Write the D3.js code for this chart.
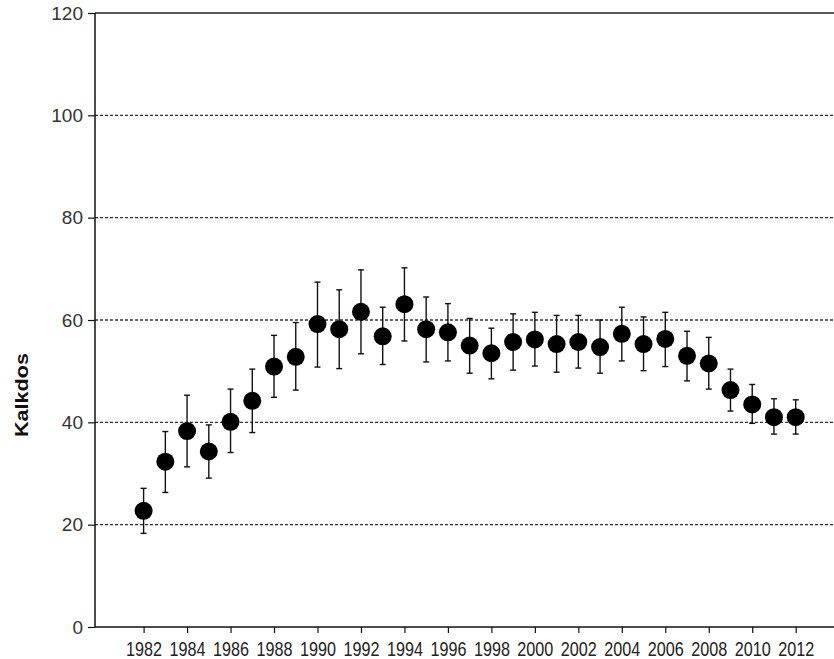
<!DOCTYPE html>
<html>
<head>
<meta charset="utf-8">
<script src="https://cdn.jsdelivr.net/npm/d3@7"></script>
<style>
  html, body { margin: 0; padding: 0; background: #fff; }
  svg { display: block; }
</style>
</head>
<body>
<svg id="chart" width="834" height="659"></svg>
<script>
const years = [1982,1983,1984,1985,1986,1987,1988,1989,1990,1991,1992,1993,1994,1995,1996,1997,1998,1999,2000,2001,2002,2003,2004,2005,2006,2007,2008,2009,2010,2011,2012];
const means = [22.7,32.3,38.3,34.3,40.1,44.2,50.9,52.8,59.2,58.2,61.6,56.8,63.1,58.2,57.6,55.0,53.5,55.7,56.2,55.3,55.7,54.7,57.3,55.3,56.3,53.0,51.5,46.3,43.5,41.0,41.0];
const upper = [27.1,38.2,45.3,39.5,46.5,50.4,57.0,59.5,67.4,65.9,69.8,62.5,70.2,64.5,63.2,60.3,58.4,61.2,61.5,60.9,60.9,60.0,62.5,60.6,61.5,57.8,56.6,50.4,47.4,44.6,44.4];
const lower = [18.3,26.3,31.3,29.1,34.1,38.0,44.9,46.3,50.8,50.5,53.4,51.3,55.9,51.8,52.0,49.6,48.5,50.2,51.0,49.8,50.6,49.6,52.0,50.1,50.9,48.1,46.5,42.2,39.8,37.7,37.7];
const yTicks = [0,20,40,60,80,100,120];
const xTicks = [1982,1984,1986,1988,1990,1992,1994,1996,1998,2000,2002,2004,2006,2008,2010,2012];
const yLabel = "Kalkdos";

(function () {
const data = years.map((yr, i) => ({ year: yr, mean: means[i], hi: upper[i], lo: lower[i] }));

const svg = d3.select("#chart");
const pLeft = 95, pRight = 845, pTop = 13, pBottom = 627;

const x = d3.scaleLinear().domain([1982, 2012]).range([143.6, 795.7]);
const y = d3.scaleLinear().domain([0, 120]).range([pBottom, pTop]);

// Gridlines (dashed)
svg.append("g")
  .selectAll("line")
  .data(yTicks.filter(d => d > 0 && d < 120))
  .join("line")
  .attr("x1", pLeft).attr("x2", pRight)
  .attr("y1", d => y(d)).attr("y2", d => y(d))
  .attr("stroke", "#333")
  .attr("stroke-width", 1.3)
  .attr("stroke-dasharray", "3,2");

// Frame: top line
svg.append("line")
  .attr("x1", pLeft).attr("x2", pRight)
  .attr("y1", pTop).attr("y2", pTop)
  .attr("stroke", "#222").attr("stroke-width", 1.4);

// Y axis
const yAxis = d3.axisLeft(y).tickValues(yTicks).tickSize(7).tickPadding(5).tickFormat(d3.format("d"));
const gy = svg.append("g").attr("transform", `translate(${pLeft},0)`).call(yAxis);
gy.select(".domain").attr("stroke", "#111").attr("stroke-width", 1.5).attr("d", `M0,${pTop}V${pBottom}`);
gy.selectAll(".tick line").attr("stroke", "#111").attr("stroke-width", 1.2);
gy.selectAll(".tick text")
  .attr("font-family", "Arial, 'Liberation Sans', sans-serif")
  .attr("font-size", 19)
  .attr("fill", "#333");

// X axis
const xAxis = d3.axisBottom(x).tickValues(xTicks).tickSize(6).tickPadding(9).tickFormat(d3.format("d"));
const gx = svg.append("g").attr("transform", `translate(0,${pBottom})`).call(xAxis);
gx.select(".domain").attr("stroke", "#111").attr("stroke-width", 1.5).attr("d", `M${pLeft},0H${pRight}`);
gx.selectAll(".tick line").attr("stroke", "#111").attr("stroke-width", 1.2);
gx.selectAll(".tick text")
  .attr("font-family", "Arial, 'Liberation Sans', sans-serif")
  .attr("font-size", 20)
  .attr("fill", "#222")
  .attr("textLength", 36)
  .attr("lengthAdjust", "spacingAndGlyphs");

// Y label
svg.append("text")
  .attr("transform", `translate(28,395) rotate(-90)`)
  .attr("text-anchor", "middle")
  .attr("font-family", "Arial, 'Liberation Sans', sans-serif")
  .attr("font-weight", "bold")
  .attr("font-size", 19)
  .attr("fill", "#111")
  .attr("textLength", 84)
  .attr("lengthAdjust", "spacingAndGlyphs")
  .text(yLabel);

// Error bars
const eb = svg.append("g");
eb.selectAll("line.v").data(data).join("line")
  .attr("class", "v")
  .attr("x1", d => x(d.year)).attr("x2", d => x(d.year))
  .attr("y1", d => y(d.hi)).attr("y2", d => y(d.lo))
  .attr("stroke", "#111").attr("stroke-width", 1.4);
eb.selectAll("line.top").data(data).join("line")
  .attr("class", "top")
  .attr("x1", d => x(d.year) - 3).attr("x2", d => x(d.year) + 3)
  .attr("y1", d => y(d.hi)).attr("y2", d => y(d.hi))
  .attr("stroke", "#111").attr("stroke-width", 1.4);
eb.selectAll("line.bot").data(data).join("line")
  .attr("class", "bot")
  .attr("x1", d => x(d.year) - 3).attr("x2", d => x(d.year) + 3)
  .attr("y1", d => y(d.lo)).attr("y2", d => y(d.lo))
  .attr("stroke", "#111").attr("stroke-width", 1.4);

// Points
svg.append("g").selectAll("circle").data(data).join("circle")
  .attr("cx", d => x(d.year))
  .attr("cy", d => y(d.mean))
  .attr("r", 9)
  .attr("fill", "#000");
})();
</script>
</body>
</html>
